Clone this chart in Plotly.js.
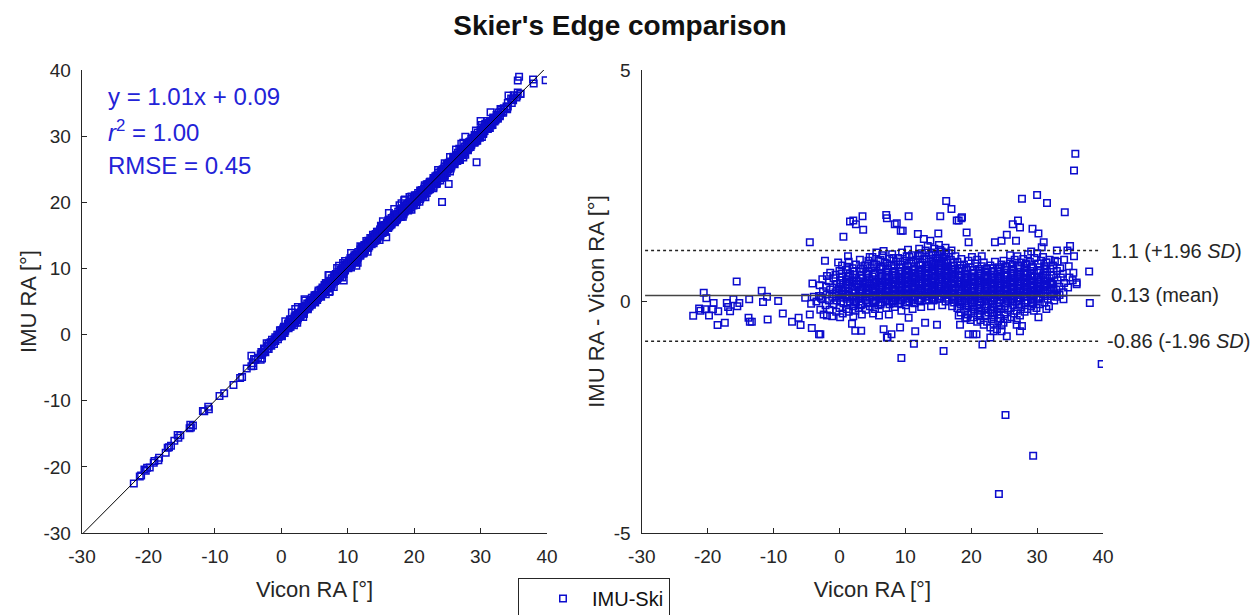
<!DOCTYPE html>
<html>
<head>
<meta charset="utf-8">
<script src="https://cdn.plot.ly/plotly-3.0.1.min.js"></script>
<style>html,body{margin:0;padding:0;background:#fff;}#chart{width:1255px;height:615px;}</style>
</head>
<body>
<div id="chart"></div>
<script>
// ---------- DATA ----------
// pairs: [Vicon RA (deg), IMU RA - Vicon RA (deg)]
const outliersHigh = [[35.8,3.19],[35.6,2.83],[27.7,2.22],[30.0,2.30],[31.5,2.13],[34.2,1.93],[16.2,2.17],[17.0,2.0],[18.1,1.75],[18.6,1.82],[15.3,1.84],[7.1,1.87],[7.2,1.80],[10.5,1.84],[1.6,1.73],[2.5,1.67],[3.5,1.84],[3.6,1.55],[0.6,1.40],[-4.5,1.28],[-2.2,0.88],[-0.2,0.84],[-4.1,0.39],[-15.6,0.43],[27.1,1.75],[27.4,1.60],[26.3,1.67],[29.3,1.57],[30.2,1.47],[25.4,1.44],[24.6,1.31],[35.0,1.20],[34.6,1.10],[37.9,0.65],[36.0,0.41],[36.0,0.37],[38.0,-0.03],[34.0,0.05],[8.7,1.69],[9.6,1.53],[17.8,1.75],[18.5,1.80],[15.0,1.47],[19.3,1.49],[19.6,1.28],[2.1,1.75],[1.3,0.98],[4.6,0.96],[5.6,1.06],[6.7,1.09],[13.8,1.31],[12.8,1.35],[11.9,1.46],[9.3,1.53],[8.4,1.67],[23.6,1.28],[26.8,1.31],[31.0,1.28],[32.7,0.88],[31.4,0.84],[30.7,1.17],[33.0,1.10]];
const outliersLow = [[39.8,-1.35],[25.2,-2.45],[29.4,-3.33],[24.2,-4.16],[9.4,-1.22],[15.8,-1.07],[11.3,-0.91],[21.7,-0.93],[7.3,-0.77],[-3.1,-0.71],[-4.2,-0.57],[-8.6,-0.26],[-10.9,-0.39],[-13.8,-0.35],[-13.6,-0.44],[-13.3,-0.44],[-18.5,-0.51],[-17.4,-0.46],[-22.2,-0.31],[-21.3,-0.15],[-7.2,-0.44],[-6.2,-0.35],[-5.9,-0.51],[1.9,-0.48],[3.3,-0.63],[2.4,-0.63],[6.7,-0.60],[7.2,-0.78],[7.9,-0.71],[9.2,-0.56],[10.5,-0.35],[11.5,-0.64],[13.0,-0.46],[14.8,-0.50],[18.3,-0.50],[19.3,-0.35],[19.6,-0.71],[20.3,-0.71],[20.8,-0.71],[22.9,-0.78],[23.4,-0.64],[24.6,-0.64],[25.4,-0.75],[26.9,-0.50],[27.4,-0.64],[27.7,-0.53],[30.2,-0.34],[31.8,-0.10],[-2.9,-0.71],[-4.5,-0.28]];
const negativeRange = [[-20.6,0.19],[-20.2,0.07],[-20.4,-0.17],[-19.1,-0.03],[-19.2,-0.17],[-18.4,-0.21],[-17.1,-0.03],[-16.6,-0.21],[-16.1,0.05],[-15.5,-0.10],[-15.2,-0.03],[-13.7,0.05],[-11.8,0.23],[-11.6,-0.01],[-11.0,0.10],[-9.3,0.01],[-5.2,0.08],[-4.3,-0.05],[-3.9,0.10],[-3.5,0.0],[-2.8,0.08],[-21.1,-0.20],[-19.8,-0.30],[-16.9,-0.12],[-1.9,0.55]];
const coreA = [[-3.1,0.12],[-2.9,-0.18],[-3.0,0.35],[-2.6,0.05],[-2.4,-0.28],[-2.5,0.22],[-2.6,0.48],[-2.1,-0.08],[-1.9,0.15],[-2.0,0.32],[-1.9,-0.3],[-1.6,0.02],[-1.4,0.26],[-1.5,-0.18],[-1.6,0.44],[-1.4,0.62],[-1.1,0.1],[-0.9,-0.06],[-1.0,0.3],[-0.9,0.5],[-1.1,-0.32],[-0.6,0.2],[-0.4,0.02],[-0.5,-0.22],[-0.4,0.38],[-0.6,0.58],[-0.5,0.12],[0.1,0.08],[-0.1,0.28],[0.0,-0.14],[0.1,0.46],[-0.1,0.18],[0.0,0.66],[0.1,-0.34],[0.4,0.16],[0.6,-0.04],[0.5,0.36],[0.4,0.54],[0.6,0.24],[0.5,-0.26],[0.4,0.78],[1.1,0.06],[0.9,0.3],[1.0,0.48],[1.1,-0.16],[0.9,0.14],[1.0,0.68],[1.1,0.38],[1.4,0.22],[1.6,0.0],[1.5,0.42],[1.4,-0.22],[1.6,0.6],[1.5,0.12],[1.4,0.86],[2.1,0.1],[1.9,0.32],[2.0,0.52],[2.1,-0.1],[1.9,0.2],[2.0,0.72],[2.1,-0.32],[1.9,0.42],[2.4,0.18],[2.6,0.36],[2.5,-0.02],[2.4,0.58],[2.6,0.08],[2.5,0.8],[2.4,-0.2],[2.6,0.46],[3.1,0.26],[2.9,0.06],[3.0,0.44],[3.1,0.64],[2.9,-0.14],[3.0,0.16],[3.1,0.9],[2.9,0.36],[3.4,0.12],[3.6,0.32],[3.5,0.5],[3.4,-0.06],[3.6,0.7],[3.5,0.22],[3.4,-0.28],[3.6,0.42],[4.1,0.2],[3.9,0.4],[4.0,0.02],[4.1,0.6],[3.9,0.78],[4.0,-0.18],[4.1,0.3],[3.9,0.1],[4.4,0.28],[4.6,0.08],[4.5,0.48],[4.4,0.66],[4.6,-0.1],[4.5,0.18],[4.4,0.88],[4.6,0.38]];
const coreB = [[5.1,0.14],[4.9,0.34],[5.0,0.54],[5.1,-0.04],[4.9,0.72],[5.0,0.24],[5.1,-0.26],[4.9,0.44],[5.0,0.96],[5.4,0.22],[5.6,0.42],[5.5,0.02],[5.4,0.62],[5.6,0.8],[5.5,0.32],[5.4,-0.16],[5.6,0.12],[6.1,0.3],[5.9,0.1],[6.0,0.5],[6.1,0.7],[5.9,-0.08],[6.0,0.2],[6.1,0.4],[5.9,0.88],[6.0,-0.3],[6.4,0.16],[6.6,0.36],[6.5,0.56],[6.4,-0.02],[6.6,0.76],[6.5,0.26],[6.4,0.46],[6.6,0.06],[6.5,1.0],[7.1,0.24],[6.9,0.44],[7.0,0.04],[7.1,0.64],[6.9,0.84],[7.0,0.34],[7.1,-0.14],[6.9,0.14],[7.0,0.54],[7.4,0.32],[7.6,0.12],[7.5,0.52],[7.4,0.72],[7.6,-0.06],[7.5,0.22],[7.4,0.42],[7.6,0.92],[7.5,-0.28],[8.1,0.18],[7.9,0.38],[8.0,0.58],[8.1,0.0],[7.9,0.78],[8.0,0.28],[8.1,0.48],[7.9,0.08],[8.0,1.02],[8.4,0.26],[8.6,0.46],[8.5,0.06],[8.4,0.66],[8.6,0.86],[8.5,0.36],[8.4,-0.12],[8.6,0.16],[8.5,0.56],[9.1,0.34],[8.9,0.14],[9.0,0.54],[9.1,0.74],[8.9,-0.04],[9.0,0.24],[9.1,0.44],[8.9,0.94],[9.0,0.64],[9.4,0.2],[9.6,0.4],[9.5,0.6],[9.4,0.02],[9.6,0.8],[9.5,0.3],[9.4,0.5],[9.6,0.1],[9.5,1.06],[9.4,-0.2],[10.1,0.28],[9.9,0.48],[10.0,0.08],[10.1,0.68],[9.9,0.88],[10.0,0.38],[10.1,-0.08],[9.9,0.18],[10.0,0.58],[10.4,0.36],[10.6,0.16],[10.5,0.56],[10.4,0.76],[10.6,0.0],[10.5,0.26],[10.4,0.46],[10.6,0.96],[10.5,0.66],[10.4,1.12],[11.1,0.22],[10.9,0.42],[11.0,0.62],[11.1,0.04],[10.9,0.82],[11.0,0.32],[11.1,0.52],[10.9,0.12],[11.0,1.0],[11.1,-0.16],[11.4,0.3],[11.6,0.5],[11.5,0.1],[11.4,0.7],[11.6,0.9],[11.5,0.4],[11.4,-0.04],[11.6,0.2],[11.5,0.6],[12.1,0.38],[11.9,0.18],[12.0,0.58],[12.1,0.78],[11.9,0.02],[12.0,0.28],[12.1,0.48],[11.9,0.98],[12.0,0.68],[12.1,1.14],[12.4,0.24],[12.6,0.44],[12.5,0.64],[12.4,0.06],[12.6,0.84],[12.5,0.34],[12.4,0.54],[12.6,0.14],[12.5,1.04],[12.4,-0.12],[13.1,0.32],[12.9,0.52],[13.0,0.12],[13.1,0.72],[12.9,0.92],[13.0,0.42],[13.1,0.02],[12.9,0.22],[13.0,0.62],[13.1,1.1],[13.4,0.4],[13.6,0.2],[13.5,0.6],[13.4,0.8],[13.6,0.04],[13.5,0.3],[13.4,0.5],[13.6,1.0],[13.5,0.7],[13.4,1.2],[14.1,0.26],[13.9,0.46],[14.0,0.66],[14.1,0.08],[13.9,0.86],[14.0,0.36],[14.1,0.56],[13.9,0.16],[14.0,1.06],[14.1,0.76],[13.9,-0.1],[14.4,0.34],[14.6,0.54],[14.5,0.14],[14.4,0.74],[14.6,0.94],[14.5,0.44],[14.4,0.04],[14.6,0.24],[14.5,0.64],[14.4,1.14],[14.6,0.84]];
const coreC = [[15.1,0.42],[14.9,0.22],[15.0,0.62],[15.1,0.82],[14.9,0.06],[15.0,0.32],[15.1,0.52],[14.9,1.02],[15.0,0.72],[15.1,1.22],[14.9,0.92],[15.4,0.28],[15.6,0.48],[15.5,0.68],[15.4,0.1],[15.6,0.88],[15.5,0.38],[15.4,0.58],[15.6,0.18],[15.5,1.08],[15.4,0.78],[15.6,-0.08],[16.1,0.36],[15.9,0.56],[16.0,0.16],[16.1,0.76],[15.9,0.96],[16.0,0.46],[16.1,0.0],[15.9,0.26],[16.0,0.66],[16.1,1.16],[15.9,0.86],[16.4,0.44],[16.6,0.24],[16.5,0.64],[16.4,0.84],[16.6,0.04],[16.5,0.34],[16.4,0.54],[16.6,1.04],[16.5,0.74],[16.4,0.14],[17.1,0.3],[16.9,0.5],[17.0,0.7],[17.1,0.1],[16.9,0.9],[17.0,0.4],[17.1,0.6],[16.9,0.2],[17.0,1.1],[17.1,-0.1],[17.4,0.38],[17.6,0.58],[17.5,0.18],[17.4,0.78],[17.6,0.98],[17.5,0.48],[17.4,-0.02],[17.6,0.28],[17.5,0.68],[17.4,0.08],[18.1,0.26],[17.9,0.06],[18.0,0.46],[18.1,0.66],[17.9,-0.14],[18.0,0.16],[18.1,0.36],[17.9,0.86],[18.0,0.56],[18.1,-0.3],[18.4,0.12],[18.6,0.32],[18.5,0.52],[18.4,-0.06],[18.6,0.72],[18.5,0.22],[18.4,0.42],[18.6,0.02],[18.5,0.92],[18.4,-0.24],[19.1,0.2],[18.9,0.4],[19.0,0.0],[19.1,0.6],[18.9,0.8],[19.0,0.3],[19.1,-0.18],[18.9,0.1],[19.0,0.5],[19.1,-0.36],[19.4,0.28],[19.6,0.08],[19.5,0.48],[19.4,0.68],[19.6,-0.1],[19.5,0.18],[19.4,0.38],[19.6,0.88],[19.5,-0.28],[19.4,0.58],[20.1,0.14],[19.9,0.34],[20.0,0.54],[20.1,-0.04],[19.9,0.74],[20.0,0.24],[20.1,0.44],[19.9,0.04],[20.0,-0.22],[20.1,0.96],[19.9,-0.4],[20.4,0.22],[20.6,0.42],[20.5,0.02],[20.4,0.62],[20.6,0.82],[20.5,0.32],[20.4,-0.16],[20.6,0.12],[20.5,0.52],[20.4,-0.34],[21.1,0.3],[20.9,0.1],[21.0,0.5],[21.1,0.7],[20.9,-0.08],[21.0,0.2],[21.1,0.4],[20.9,0.9],[21.0,-0.26],[21.1,0.6],[20.9,-0.44],[21.4,0.16],[21.6,0.36],[21.5,0.56],[21.4,-0.02],[21.6,0.76],[21.5,0.26],[21.4,0.46],[21.6,0.06],[21.5,-0.2],[21.4,-0.4],[21.6,0.98],[22.1,0.24],[21.9,0.44],[22.0,0.04],[22.1,0.64],[21.9,0.84],[22.0,0.34],[22.1,-0.14],[21.9,0.14],[22.0,0.54],[22.1,-0.32],[21.9,-0.5],[22.4,0.32],[22.6,0.12],[22.5,0.52],[22.4,0.72],[22.6,-0.06],[22.5,0.22],[22.4,0.42],[22.6,-0.24],[22.5,0.62],[22.4,-0.44],[23.1,0.18],[22.9,0.38],[23.0,0.58],[23.1,0.0],[22.9,0.78],[23.0,0.28],[23.1,0.48],[22.9,0.08],[23.0,-0.18],[23.1,-0.38],[22.9,-0.56],[23.4,0.26],[23.6,0.46],[23.5,0.06],[23.4,0.66],[23.6,0.86],[23.5,0.36],[23.4,-0.12],[23.6,0.16],[23.5,-0.3],[23.4,-0.48],[24.1,0.34],[23.9,0.14],[24.0,0.54],[24.1,0.74],[23.9,-0.04],[24.0,0.24],[24.1,0.44],[23.9,-0.22],[24.0,0.64],[24.1,-0.42],[23.9,-0.6],[24.4,0.2],[24.6,0.4],[24.5,0.6],[24.4,0.02],[24.6,0.8],[24.5,0.3],[24.4,0.5],[24.6,0.1],[24.5,-0.16],[24.4,-0.36],[24.6,-0.52],[25.1,0.28],[24.9,0.48],[25.0,0.08],[25.1,0.68],[24.9,0.88],[25.0,0.38],[25.1,-0.1],[24.9,0.18],[25.0,-0.28],[25.1,0.58],[24.9,-0.46],[25.4,0.36],[25.6,0.16],[25.5,0.56],[25.4,0.76],[25.6,0.0],[25.5,0.26],[25.4,0.46],[25.6,-0.18],[25.5,-0.38],[25.4,0.06],[26.1,0.22],[25.9,0.42],[26.0,0.62],[26.1,0.04],[25.9,0.82],[26.0,0.32],[26.1,0.52],[25.9,0.12],[26.0,-0.14],[26.1,-0.34],[25.9,1.0],[26.4,0.3],[26.6,0.5],[26.5,0.1],[26.4,0.7],[26.6,0.9],[26.5,0.4],[26.4,-0.08],[26.6,0.2],[26.5,-0.26],[26.4,0.6]];
const coreD = [[27.1,0.38],[26.9,0.18],[27.0,0.58],[27.1,0.78],[26.9,0.0],[27.0,0.28],[27.1,0.48],[26.9,-0.2],[27.0,0.98],[27.1,0.08],[26.9,-0.4],[27.4,0.24],[27.6,0.44],[27.5,0.64],[27.4,0.06],[27.6,0.84],[27.5,0.34],[27.4,0.54],[27.6,-0.12],[27.5,0.14],[27.4,-0.3],[28.1,0.32],[27.9,0.52],[28.0,0.12],[28.1,0.72],[27.9,0.92],[28.0,0.42],[28.1,-0.04],[27.9,0.22],[28.0,0.62],[28.1,-0.22],[28.4,0.4],[28.6,0.2],[28.5,0.6],[28.4,0.8],[28.6,0.02],[28.5,0.3],[28.4,0.5],[28.6,1.02],[28.5,-0.16],[28.4,0.1],[29.1,0.26],[28.9,0.46],[29.0,0.66],[29.1,0.06],[28.9,0.86],[29.0,0.36],[29.1,-0.1],[28.9,0.16],[29.0,0.56],[29.1,1.08],[29.4,0.34],[29.6,0.54],[29.5,0.14],[29.4,0.74],[29.6,0.94],[29.5,0.44],[29.4,-0.02],[29.6,0.24],[29.5,-0.2],[30.1,0.42],[29.9,0.22],[30.0,0.62],[30.1,0.82],[29.9,0.04],[30.0,0.32],[30.1,0.52],[29.9,-0.14],[30.0,1.04],[30.4,0.28],[30.6,0.48],[30.5,0.68],[30.4,0.1],[30.6,0.88],[30.5,0.38],[30.4,-0.06],[30.6,0.18],[31.1,0.36],[30.9,0.56],[31.0,0.16],[31.1,0.76],[30.9,0.96],[31.0,0.46],[31.1,-0.02],[30.9,0.26],[31.4,0.44],[31.6,0.24],[31.5,0.64],[31.4,0.84],[31.6,0.06],[31.5,0.34],[31.4,-0.16],[32.1,0.3],[31.9,0.5],[32.0,0.7],[32.1,0.12],[31.9,0.9],[32.0,0.4],[32.4,0.38],[32.6,0.18],[32.5,0.58],[32.4,0.78],[32.6,0.02],[32.5,0.28],[33.1,0.46],[32.9,0.26],[33.0,0.66],[33.1,0.86],[32.9,0.1],[33.4,0.32],[33.6,0.52],[33.5,0.72],[33.4,0.14],[34.1,0.4],[33.9,0.6],[34.0,0.2],[34.1,0.9],[34.7,0.3],[34.9,0.52],[34.8,0.76],[35.4,0.46],[35.6,0.98],[35.5,0.62]];
const coreFill = [[0.25,0.0],[0.3,0.2],[0.2,0.4],[0.3,0.6],[1.25,-0.05],[1.2,0.15],[1.3,0.35],[1.25,0.55],[1.2,0.75],[2.25,0.0],[2.3,0.25],[2.2,0.45],[2.25,0.65],[3.25,-0.08],[3.2,0.12],[3.3,0.32],[3.25,0.52],[3.2,0.72],[4.25,-0.02],[4.3,0.18],[4.2,0.38],[4.25,0.58],[4.3,0.78],[5.25,0.0],[5.2,0.2],[5.3,0.4],[5.25,0.6],[5.2,0.8],[6.25,-0.06],[6.3,0.14],[6.2,0.34],[6.25,0.54],[6.3,0.74],[6.2,0.9],[7.25,0.02],[7.2,0.22],[7.3,0.42],[7.25,0.62],[7.2,0.82],[8.25,-0.04],[8.3,0.16],[8.2,0.36],[8.25,0.56],[8.3,0.76],[8.2,0.94],[9.25,0.06],[9.2,0.26],[9.3,0.46],[9.25,0.66],[9.2,0.86],[10.25,-0.02],[10.3,0.18],[10.2,0.38],[10.25,0.58],[10.3,0.78],[10.2,0.98],[11.25,0.08],[11.2,0.28],[11.3,0.48],[11.25,0.68],[11.2,0.88],[12.25,0.0],[12.3,0.2],[12.2,0.4],[12.25,0.6],[12.3,0.8],[12.2,1.0],[13.25,0.1],[13.2,0.3],[13.3,0.5],[13.25,0.7],[13.2,0.9],[14.25,0.02],[14.3,0.22],[14.2,0.42],[14.25,0.62],[14.3,0.82],[14.2,1.02],[15.25,0.12],[15.2,0.32],[15.3,0.52],[15.25,0.72],[15.2,0.92],[15.3,1.12],[16.25,0.08],[16.3,0.28],[16.2,0.48],[16.25,0.68],[16.3,0.88],[16.2,1.06],[17.25,0.04],[17.2,0.24],[17.3,0.44],[17.25,0.64],[17.2,0.84],[18.25,-0.02],[18.3,0.18],[18.2,0.38],[18.25,0.58],[18.3,0.78],[19.25,-0.08],[19.2,0.12],[19.3,0.32],[19.25,0.52],[19.2,0.72],[20.25,-0.12],[20.3,0.08],[20.2,0.28],[20.25,0.48],[20.3,0.68],[21.25,-0.14],[21.2,0.06],[21.3,0.26],[21.25,0.46],[21.2,0.66],[21.3,-0.32],[22.25,-0.1],[22.3,0.1],[22.2,0.3],[22.25,0.5],[22.3,0.7],[22.2,-0.3],[23.25,-0.06],[23.2,0.14],[23.3,0.34],[23.25,0.54],[23.2,0.72],[23.3,-0.26],[24.25,-0.1],[24.3,0.1],[24.2,0.3],[24.25,0.5],[24.3,0.7],[24.2,-0.28],[25.25,-0.04],[25.2,0.16],[25.3,0.36],[25.25,0.56],[25.2,0.76],[26.25,0.0],[26.3,0.2],[26.2,0.4],[26.25,0.6],[26.3,0.8],[27.25,-0.06],[27.2,0.14],[27.3,0.34],[27.25,0.54],[27.2,0.74],[28.25,0.02],[28.3,0.22],[28.2,0.42],[28.25,0.62],[28.3,0.82],[29.25,-0.04],[29.2,0.16],[29.3,0.36],[29.25,0.56],[29.2,0.76],[30.25,0.06],[30.3,0.26],[30.2,0.46],[30.25,0.66],[31.25,0.12],[31.2,0.32],[31.3,0.52],[31.25,0.72],[32.25,0.16],[32.3,0.36],[32.2,0.56]];

// regression (left) and Bland-Altman statistics (right)
const fitSlope = 1.01, fitIntercept = 0.09, fitR2 = 1.00, fitRMSE = 0.45;
const meanDiff = 0.13, upperLoA = 1.1, lowerLoA = -0.86;
const axisTicks = [-30, -20, -10, 0, 10, 20, 30, 40];
const axisTickText = ['-30', '-20', '-10', '0', '10', '20', '30', '40'];
const diffTicks = [-5, 0, 5];
const diffTickText = ['-5', '0', '5'];
const seriesName = 'IMU-Ski';

// ---------- derived ----------
const allPts = [].concat(negativeRange, coreA, coreB, coreC, coreD, coreFill, outliersHigh, outliersLow);
const vicon = allPts.map(p => p[0]);
const diff = allPts.map(p => p[1]);
const imu = vicon.map((v, i) => +(v + diff[i]).toFixed(2));
const fitX = [-29.8, 39.6];
const fitY = fitX.map(x => fitSlope * x + fitIntercept);

const FONT = 'Liberation Sans, Arial, Helvetica, sans-serif';
const MARK = 'rgb(12,12,205)';
const TXT = '#262626';

const markerStyle = {symbol: 'square-open', size: 6.5, color: MARK, line: {width: 1.5, color: MARK}};

const traces = [
  {x: vicon, y: imu, type: 'scatter', mode: 'markers', marker: markerStyle, xaxis: 'x', yaxis: 'y', showlegend: false, name: seriesName, hoverinfo: 'x+y'},
  {x: fitX, y: fitY, type: 'scatter', mode: 'lines', line: {color: '#000', width: 1}, xaxis: 'x', yaxis: 'y', showlegend: false, hoverinfo: 'skip'},
  {x: vicon, y: diff, type: 'scatter', mode: 'markers', marker: markerStyle, xaxis: 'x2', yaxis: 'y2', showlegend: true, name: seriesName, hoverinfo: 'x+y'}
];

const axBase = {
  showline: true, linecolor: TXT, linewidth: 1.3, mirror: false,
  ticks: 'inside', ticklen: 5, tickwidth: 1.2, tickcolor: TXT,
  showgrid: false, zeroline: false,
  tickfont: {family: FONT, size: 19, color: TXT},
  fixedrange: true
};

const L = 82, R = 1103, T = 70, B = 533, W = 1255, H = 615;
const px = v => (v - L) / (R - L);
const py = v => (B - v) / (B - T);
const titleFont = {family: FONT, size: 22, color: TXT};

const layout = {
  width: W, height: H,
  paper_bgcolor: '#fff', plot_bgcolor: '#fff',
  margin: {l: L, r: W - R, t: T, b: H - B, autoexpand: false},
  font: {family: FONT, color: TXT},
  title: {text: "Skier's Edge comparison", x: 620 / W, xanchor: 'center', xref: 'container', y: 1 - 25.5 / H, yanchor: 'middle', yref: 'container',
          font: {family: FONT, size: 28, weight: 'bold', color: '#111'}},
  xaxis: Object.assign({}, axBase, {domain: [0, px(547)], range: [-30, 40], tickvals: axisTicks, ticktext: axisTickText, anchor: 'y',
          ticklabelstandoff: 6, title: {text: 'Vicon RA [°]', font: titleFont, standoff: 15}}),
  yaxis: Object.assign({}, axBase, {domain: [0, 1], range: [-30, 40], tickvals: axisTicks, ticktext: axisTickText, anchor: 'x',
          ticklabelstandoff: 6, title: {text: 'IMU RA [°]', font: titleFont, standoff: 0}}),
  xaxis2: Object.assign({}, axBase, {domain: [px(641.8), 1], range: [-30, 40], tickvals: axisTicks, ticktext: axisTickText, anchor: 'y2',
          ticklabelstandoff: 6, title: {text: 'Vicon RA [°]', font: titleFont, standoff: 15}}),
  yaxis2: Object.assign({}, axBase, {domain: [0, 1], range: [-5, 5], tickvals: diffTicks, ticktext: diffTickText, anchor: 'x2',
          ticklabelstandoff: 6, title: {text: 'IMU RA - Vicon RA [°]', font: titleFont, standoff: 3}}),
  shapes: [
    {type: 'line', xref: 'x2', yref: 'y2', x0: -29.5, x1: 39.6, y0: upperLoA, y1: upperLoA, line: {color: '#222', width: 1.4, dash: 'dot'}},
    {type: 'line', xref: 'x2', yref: 'y2', x0: -29.5, x1: 39.6, y0: meanDiff, y1: meanDiff, line: {color: '#444', width: 1.6}},
    {type: 'line', xref: 'x2', yref: 'y2', x0: -29.5, x1: 39.6, y0: lowerLoA, y1: lowerLoA, line: {color: '#222', width: 1.4, dash: 'dot'}}
  ],
  annotations: [
    {xref: 'paper', yref: 'paper', x: px(106), y: py(96), xanchor: 'left', yanchor: 'middle', showarrow: false,
     text: 'y = ' + fitSlope.toFixed(2) + 'x + ' + fitIntercept.toFixed(2), font: {family: FONT, size: 24, color: 'rgb(35,35,215)'}},
    {xref: 'paper', yref: 'paper', x: px(106), y: py(131), xanchor: 'left', yanchor: 'middle', showarrow: false,
     text: '<i>r</i><sup>2</sup> = ' + fitR2.toFixed(2), font: {family: FONT, size: 24, color: 'rgb(35,35,215)'}},
    {xref: 'paper', yref: 'paper', x: px(106), y: py(165), xanchor: 'left', yanchor: 'middle', showarrow: false,
     text: 'RMSE = ' + fitRMSE.toFixed(2), font: {family: FONT, size: 24, color: 'rgb(35,35,215)'}},
    {xref: 'x2', yref: 'y2', x: 40, y: upperLoA, xanchor: 'left', yanchor: 'middle', xshift: 6, showarrow: false,
     text: upperLoA + ' (+1.96 <i>SD</i>)', font: {family: FONT, size: 20, color: TXT}},
    {xref: 'x2', yref: 'y2', x: 40, y: meanDiff, xanchor: 'left', yanchor: 'middle', xshift: 6, showarrow: false,
     text: meanDiff + ' (mean)', font: {family: FONT, size: 20, color: TXT}},
    {xref: 'x2', yref: 'y2', x: 40, y: lowerLoA, xanchor: 'left', yanchor: 'middle', xshift: 2, showarrow: false,
     text: lowerLoA + ' (-1.96 <i>SD</i>)', font: {family: FONT, size: 20, color: TXT}}
  ],
  showlegend: true,
  legend: {x: px(518), y: py(578), xanchor: 'left', yanchor: 'top', xref: 'paper', yref: 'paper',
           indentation: 15, itemwidth: 48,
           bordercolor: TXT, borderwidth: 1, bgcolor: '#fff', font: {family: FONT, size: 20, color: '#111'}}
};

Plotly.newPlot('chart', traces, layout, {displayModeBar: false, staticPlot: true});
</script>
</body>
</html>
